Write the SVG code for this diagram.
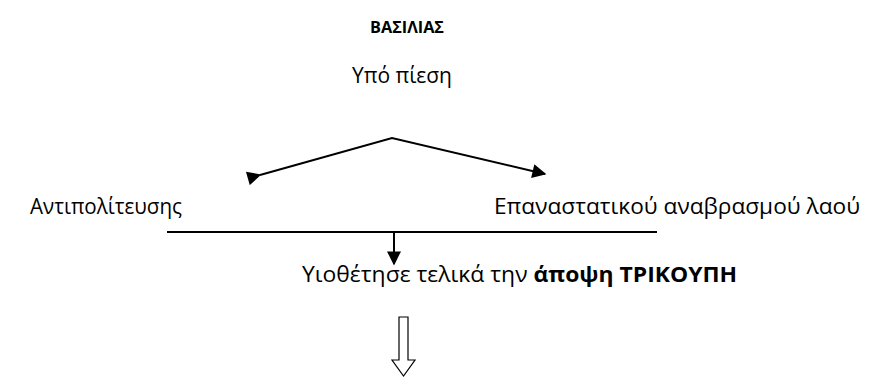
<svg xmlns="http://www.w3.org/2000/svg" width="875" height="381" viewBox="0 0 875 381">
<defs>
<style>
text{font-family:"Open Sans","Noto Sans","DejaVu Sans",sans-serif;font-size:21.5px;fill:#000}
.b{font-weight:bold}
.ln{stroke:#000;stroke-width:2;fill:none}
</style>
<marker id="ah" viewBox="0 0 10 10" refX="9" refY="5" markerWidth="8" markerHeight="7" orient="auto" markerUnits="strokeWidth">
<path d="M0,0 L10,5 L0,10 z" fill="#000"/>
</marker>
</defs>
<rect width="875" height="381" fill="#fff"/>
<g id="king"><text x="370" y="33" class="b" style="font-size:16px" textLength="74" lengthAdjust="spacingAndGlyphs">ΒΑΣΙΛΙΑΣ</text></g>
<g id="pressure"><text x="352" y="83" textLength="100" lengthAdjust="spacingAndGlyphs">Υπό πίεση</text></g>
<g id="opposition"><text x="30" y="214" textLength="152" lengthAdjust="spacingAndGlyphs">Αντιπολίτευσης</text></g>
<g id="revolt"><text x="494" y="214" textLength="366" lengthAdjust="spacingAndGlyphs">Επαναστατικού αναβρασμού λαού</text></g>
<g id="result"><text x="302" y="282" textLength="435" lengthAdjust="spacingAndGlyphs">Υιοθέτησε τελικά την <tspan class="b">άποψη ΤΡΙΚΟΥΠΗ</tspan></text></g>
<g id="connectors">
<polyline class="ln" points="260,175 392,138 545,174" marker-start="url(#ah)" marker-end="url(#ah)"/>
<line class="ln" x1="167" y1="232" x2="657" y2="232"/>
<line class="ln" x1="394" y1="232" x2="394" y2="264" marker-end="url(#ah)"/>
<path d="M399,317 H408 V360 H415 L403.5,376 L392,360 H399 Z" fill="#fff" stroke="#000" stroke-width="1.2"/>
</g>
</svg>
